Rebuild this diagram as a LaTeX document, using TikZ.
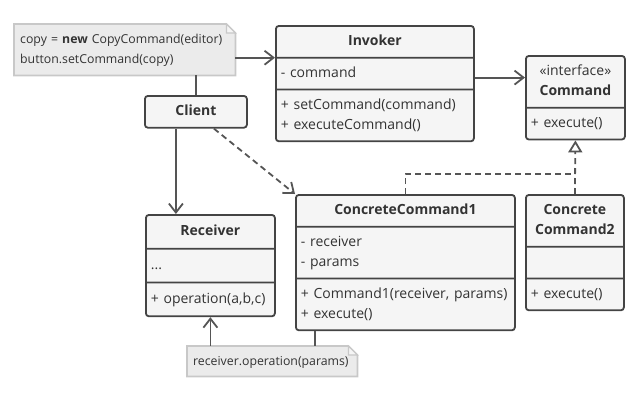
\documentclass[tikz,border=0pt]{standalone}
\usepackage{fontspec}
\setmainfont{Open Sans}
\usetikzlibrary{shapes.multipart, arrows.meta, backgrounds, positioning}

\definecolor{boxfill}{HTML}{F5F5F5}
\definecolor{boxline}{HTML}{444444}
\definecolor{notefill}{HTML}{EBEBEB}
\definecolor{noteline}{HTML}{C8C8C8}
\definecolor{wire}{HTML}{555555}
\definecolor{ink}{HTML}{333333}

% centred line inside a class part
\newcommand{\hd}[1]{\makebox[\linewidth][c]{\strut#1}}

\begin{document}
\begin{tikzpicture}[
    x=1pt, y=-1pt,
    every node/.style={font=\fontsize{14}{20}\selectfont, text=ink},
    cls/.style={rectangle split, rectangle split parts=#1, draw=boxline, fill=boxfill,
      line width=1.8pt, rounded corners=3pt, inner xsep=5pt, inner ysep=5pt,
      align=left, anchor=north west},
    notebox/.style={font=\fontsize{12.3}{20}\selectfont, align=left, anchor=north west,
      inner xsep=6pt, inner ysep=5.5pt},
    assoc/.style={draw=wire, line width=1.8pt, -{Straight Barb[length=9pt, width=14pt]}},
    depend/.style={assoc, dash pattern=on 6pt off 4pt},
    realize/.style={draw=wire, line width=1.8pt, dash pattern=on 6pt off 4pt}
  ]
  \useasboundingbox (0,0) rectangle (640,400);

  % classes
  \node[cls=3, text width=188pt] (invoker) at (275,25)
    {\hd{\textbf{Invoker}}
     \nodepart{two}\strut- command
     \nodepart{three}\strut+ setCommand(command)\\\strut+ executeCommand()};

  \node[cls=2, text width=89pt] (command) at (525,55)
    {\hd{«interface»}\\\hd{\textbf{Command}}
     \nodepart{two}\strut+ execute()};

  \node[cls=1, text width=92pt] (client) at (144,95)
    {\hd{\textbf{Client}}};

  \node[cls=3, text width=119pt, inner ysep=6pt] (receiver) at (145,214)
    {\hd{\textbf{Receiver}}
     \nodepart{two}\strut...
     \nodepart{three}\strut+ operation(a,b,c)};

  \node[cls=3, text width=209pt] (concrete1) at (295,194)
    {\hd{\textbf{ConcreteCommand1}}
     \nodepart{two}\strut- receiver\\\strut- params
     \nodepart{three}\strut+ Command1(receiver, params)\\\strut+ execute()};

  \node[cls=3, text width=88pt] (concrete2) at (525,194)
    {\hd{\textbf{Concrete}}\\\hd{\textbf{Command2}}
     \nodepart{two}\strut
     \nodepart{three}\strut+ execute()};

  % notes
  \node[notebox, text width=209pt] (copynote) at (14,24)
    {\strut copy = \textbf{new} CopyCommand(editor)\\\strut button.setCommand(copy)};
  \node[notebox, text width=158pt, inner ysep=5pt] (opnote) at (187,346)
    {\strut receiver.operation(params)};

  \begin{pgfonlayer}{background}
    \foreach \n in {copynote, opnote} {
      \draw[draw=noteline, fill=notefill, line width=1.8pt]
        (\n.south west) -- (\n.north west) -- ([xshift=-9pt]\n.north east)
        -- ([yshift=-9pt]\n.north east) -- (\n.south east) -- cycle;
      \draw[draw=noteline, fill=boxfill, line width=1.2pt]
        ([xshift=-9pt]\n.north east) -- ([xshift=-9pt, yshift=-9pt]\n.north east)
        -- ([yshift=-9pt]\n.north east) -- cycle;
    }
  \end{pgfonlayer}

  % connectors
  \draw[assoc] (copynote.east |- invoker.text split west) -- (invoker.text split west);
  \draw[assoc] (invoker.east |- invoker.two) -- (command.west |- invoker.two);
  \draw[draw=wire, line width=1.8pt] (copynote.south -| client.north) -- (client.north);
  \draw[assoc] ([xshift=-20pt]client.south) -- ([xshift=-20pt]client.south |- receiver.north);
  \draw[depend] ([xshift=18pt]client.south) -- (concrete1.north west);

  \coordinate (joint) at ([yshift=20pt]concrete2.north);
  \draw[realize] (concrete1.north) |- (joint);
  \draw[realize, -{Triangle[open, length=12pt, width=14pt]}] (concrete2.north) -- (command.south);

  \draw[assoc] (receiver.south |- opnote.north) -- (receiver.south);
  \draw[draw=wire, line width=1.8pt] ([xshift=20pt]concrete1.south west)
    -- ([xshift=20pt]concrete1.south west |- opnote.north);
\end{tikzpicture}
\end{document}
